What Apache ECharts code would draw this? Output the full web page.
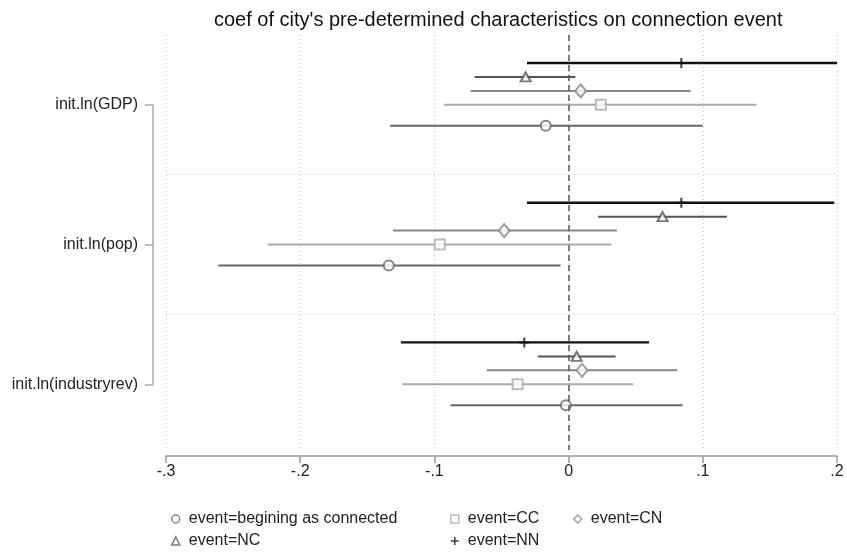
<!DOCTYPE html>
<html>
<head>
<meta charset="utf-8">
<script src="https://cdn.jsdelivr.net/npm/echarts@6/dist/echarts.min.js"></script>
<style>
    html, body { margin: 0; padding: 0; background: #fff; }
    #coefplot { width: 847px; height: 555px; }
</style>
</head>
<body>
<div id="coefplot"></div>
<script>
// variables (top to bottom)
const categories = ['init.ln(GDP)', 'init.ln(pop)', 'init.ln(industryrev)']
const xTicks = [-0.3, -0.2, -0.1, 0, 0.1, 0.2]

// point estimates and CI bounds per variable, one set per event type
const beginCoef = [-0.017, -0.134, -0.002]
const beginLo = [-0.133, -0.261, -0.088]
const beginHi = [0.100, -0.006, 0.085]

const ccCoef = [0.024, -0.096, -0.038]
const ccLo = [-0.093, -0.224, -0.124]
const ccHi = [0.140, 0.032, 0.048]

const cnCoef = [0.009, -0.048, 0.010]
const cnLo = [-0.073, -0.131, -0.061]
const cnHi = [0.091, 0.036, 0.081]

const ncCoef = [-0.032, 0.070, 0.006]
const ncLo = [-0.070, 0.022, -0.023]
const ncHi = [0.005, 0.118, 0.035]

const nnCoef = [0.084, 0.084, -0.033]
const nnLo = [-0.031, -0.031, -0.125]
const nnHi = [0.200, 0.198, 0.060]

const FONT = '"Liberation Sans", Arial, sans-serif'

// layout of main plot region
const gridTop = 35
const gridHeight = 415
const yMin = 0.5
const yMax = 3.47
const unit = gridHeight / (yMax - yMin)

const plusPath = 'path://M4,0 H6 V4 H10 V6 H6 V10 H4 V6 H0 V4 H4 Z'

const events = [
    { name: 'event=begining as connected', coef: beginCoef, lo: beginLo, hi: beginHi, offset: 0.15, color: '#666', symbol: 'circle', size: 10 },
    { name: 'event=CC', coef: ccCoef, lo: ccLo, hi: ccHi, offset: 0, color: '#aaa', symbol: 'rect', size: 10 },
    { name: 'event=CN', coef: cnCoef, lo: cnLo, hi: cnHi, offset: -0.1, color: '#888', symbol: 'diamond', size: [11, 13] },
    { name: 'event=NC', coef: ncCoef, lo: ncLo, hi: ncHi, offset: -0.2, color: '#555', symbol: 'triangle', size: [10, 9] },
    { name: 'event=NN', coef: nnCoef, lo: nnLo, hi: nnHi, offset: -0.3, color: '#111', symbol: plusPath, size: [10, 10] },
]

let fmtX = (v) => {
    let s = Math.abs(v).toFixed(1).replace(/^0/, '')
    if (Math.abs(v) < 1e-9) return '0'
    return (v < 0 ? '-' : '') + s
}

let series = []
events.forEach((ev) => {
    // CI bar
    series.push({
        name: ev.name + ' ci',
        type: 'custom',
        xAxisIndex: 0,
        yAxisIndex: 0,
        data: categories.map((c, i) => [ev.lo[i], ev.hi[i], i + 1 + ev.offset]),
        encode: { x: [0, 1], y: 2 },
        renderItem: (params, api) => {
            let a = api.coord([api.value(0), api.value(2)])
            let b = api.coord([api.value(1), api.value(2)])
            return {
                type: 'line',
                shape: { x1: a[0], y1: a[1], x2: b[0], y2: b[1] },
                style: { stroke: ev.color, lineWidth: ev.name == 'event=NN' ? 2.4 : 2 }
            }
        },
        silent: true,
        z: 2,
    })
    // point estimate
    let isPlus = ev.name == 'event=NN'
    series.push({
        name: ev.name,
        type: 'scatter',
        xAxisIndex: 0,
        yAxisIndex: 0,
        data: categories.map((c, i) => [ev.coef[i], i + 1 + ev.offset]),
        symbol: ev.symbol,
        symbolSize: ev.size,
        itemStyle: isPlus
            ? { color: ev.color, borderWidth: 0 }
            : { color: '#fff', borderColor: ev.color, borderWidth: 2 },
        z: 3,
    })
})

// zero reference line
series[0].markLine = {
    silent: true,
    symbol: 'none',
    label: { show: false },
    lineStyle: { color: '#555', type: [6, 4], width: 1.5 },
    data: [{ xAxis: 0 }],
}

let legendBase = {
    orient: 'vertical',
    top: 506,
    itemWidth: 8,
    itemHeight: 8,
    itemGap: 6,
    itemStyle: { borderWidth: 1.5 },
    textStyle: { fontFamily: FONT, fontSize: 16, color: '#222', padding: [0, 0, 0, 4] },
}

let option = {
    animation: false,
    backgroundColor: '#fff',
    title: {
        text: "coef of city's pre-determined characteristics on connection event",
        left: 209,
        top: 5,
        textStyle: { fontFamily: FONT, fontSize: 20, fontWeight: 'normal', color: '#111' },
    },
    legend: [
        Object.assign({}, legendBase, { left: 166, data: ['event=begining as connected', 'event=NC'] }),
        Object.assign({}, legendBase, { left: 445, data: ['event=CC', 'event=NN'] }),
        Object.assign({}, legendBase, { left: 568, data: ['event=CN'] }),
    ],
    grid: [
        { left: 166, right: 10, top: gridTop, height: gridHeight },
        // only used for the bracket style y axis between first and last label
        { left: 166, right: 10, top: gridTop + (1 - yMin) * unit, height: 2 * unit },
    ],
    xAxis: [
        {
            type: 'value',
            gridIndex: 0,
            min: xTicks[0],
            max: xTicks[xTicks.length - 1],
            interval: 0.1,
            offset: 6,
            axisLine: { onZero: false, lineStyle: { color: '#999', width: 1.5 } },
            axisTick: { length: 7, lineStyle: { color: '#999', width: 1.5 } },
            axisLabel: { formatter: fmtX, fontFamily: FONT, fontSize: 16, color: '#222', margin: 8 },
            splitLine: { show: true, lineStyle: { color: '#ccc', type: [1, 3], width: 1 } },
        },
        { type: 'value', gridIndex: 1, min: xTicks[0], max: xTicks[xTicks.length - 1], show: false },
    ],
    yAxis: [
        {
            type: 'value',
            gridIndex: 0,
            inverse: true,
            min: yMin,
            max: yMax,
            interval: 1,
            axisLine: { show: false },
            axisTick: { show: false },
            axisLabel: { show: false },
            splitLine: { show: true, showMinLine: false, showMaxLine: false, lineStyle: { color: '#ccc', type: [1, 3], width: 1 } },
        },
        {
            type: 'value',
            gridIndex: 1,
            inverse: true,
            min: 1,
            max: categories.length,
            interval: 1,
            offset: 13,
            axisLine: { show: true, onZero: false, lineStyle: { color: '#aaa', width: 1.5 } },
            axisTick: { show: true, length: 8, lineStyle: { color: '#aaa', width: 1.5 } },
            axisLabel: { formatter: (v) => categories[Math.round(v) - 1], fontFamily: FONT, fontSize: 16, color: '#222', margin: 15 },
            splitLine: { show: false },
        },
    ],
    series: series,
}

let chart = echarts.init(document.getElementById('coefplot'), null, { renderer: 'canvas' })
chart.setOption(option)
</script>
</body>
</html>
